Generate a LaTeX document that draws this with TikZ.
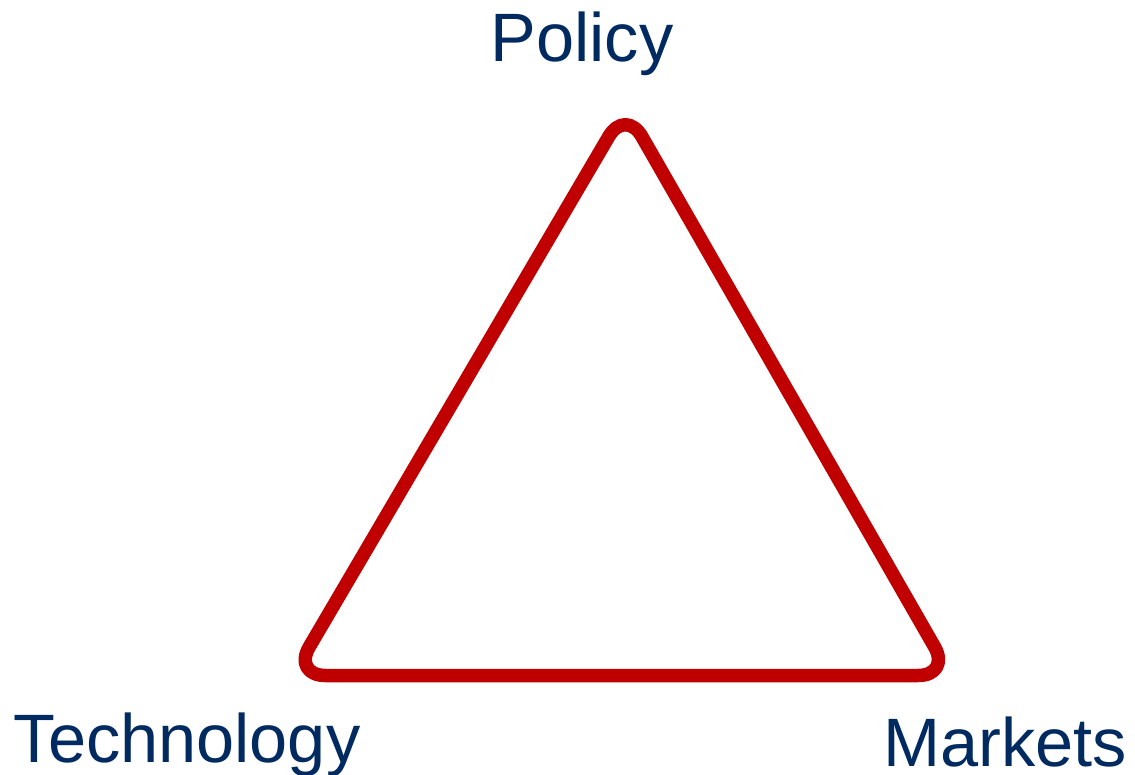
\documentclass[tikz,border=0pt]{standalone}
\usepackage{fontspec}
\setmainfont{Liberation Sans}
\definecolor{tri}{HTML}{C00000}
\definecolor{lab}{HTML}{002A60}
\begin{document}
\begin{tikzpicture}[x=1pt,y=-1pt,
  lbl/.style={inner sep=0pt,anchor=base,text=lab,font=\fontsize{68.5}{80}\selectfont},
  triline/.style={draw=tri,line width=13.5pt,rounded corners=33pt,line join=round}]
\useasboundingbox (0,0) rectangle (1135,774);
\coordinate (top) at (625.5,108);
\coordinate (bl) at (292.5,675.5);
\coordinate (br) at (951,675.5);
\draw[triline] (bl) -- (top) -- (br) -- cycle;
\node[lbl] (policy) at (582,61) {Policy};
\node[lbl] (tech) at (187,762) {Technology};
\node[lbl] (markets) at (1005,766) {Markets};
\end{tikzpicture}
\end{document}
